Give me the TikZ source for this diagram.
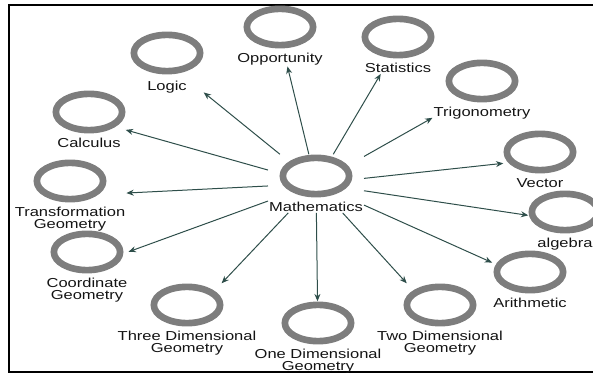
\documentclass[tikz,border=0pt]{standalone}
\usepackage{fontspec}
\newfontfamily\lblfont{Liberation Sans}[FakeStretch=1.27]
\usepackage{tikz}
\usetikzlibrary{arrows.meta,shapes.geometric,positioning,fit}
\definecolor{ringgray}{RGB}{125,125,125}
\definecolor{arrgreen}{RGB}{46,78,74}
\definecolor{lbltext} {RGB}{20,20,20}
\tikzset{
  ring/.style ={draw=ringgray, ellipse, line width=5pt,
                minimum width=49.7pt, minimum height=27.2pt, inner sep=0pt},
  lbl/.style  ={align=center, inner sep=0.5pt, text=lbltext,
                font=\lblfont\fontsize{9.75pt}{9pt}\selectfont},
  grp/.style  ={inner sep=0pt},
  arr/.style  ={-{Stealth[length=5.5pt,width=4.5pt]}, line width=0.75pt, draw=arrgreen},
  frame/.style={draw=black, line width=1.5pt},
}
\begin{document}
\begin{tikzpicture}[x=0.75pt,y=-0.75pt,node distance=2.8pt]
  \useasboundingbox (0,0) rectangle (593,374);
  \draw[frame] (9,5) rectangle (600,372);
  %% centre
  \node[ring] (math) at (316,176) {};
  \node[lbl, below=of math] (math-t) {Mathematics};
  \node[grp, fit=(math)(math-t)] (math-g) {};
  %% outer ring of topics
  \node[ring] (opp) at (280,27) {};
  \node[lbl, below=of opp] (opp-t) {Opportunity};
  \node[grp, fit=(opp)(opp-t)] (opp-g) {};
  \node[ring] (logic) at (167,53) {};
  \node[lbl, below=4pt of logic] (logic-t) {Logic};
  \node[grp, fit=(logic)(logic-t)] (logic-g) {};
  \node[ring] (stat) at (398,37) {};
  \node[lbl, below=of stat] (stat-t) {Statistics};
  \node[grp, fit=(stat)(stat-t)] (stat-g) {};
  \node[ring] (trig) at (482,81) {};
  \node[lbl, below=of trig] (trig-t) {Trigonometry};
  \node[grp, fit=(trig)(trig-t)] (trig-g) {};
  \node[ring] (calc) at (89,112) {};
  \node[lbl, below=of calc] (calc-t) {Calculus};
  \node[grp, fit=(calc)(calc-t)] (calc-g) {};
  \node[ring] (vec) at (540,152) {};
  \node[lbl, below=of vec] (vec-t) {Vector};
  \node[grp, fit=(vec)(vec-t)] (vec-g) {};
  \node[ring] (trans) at (70,181) {};
  \node[lbl, below=of trans] (trans-t) {Transformation\\Geometry};
  \node[grp, fit=(trans)(trans-t)] (trans-g) {};
  \node[ring] (alg) at (565,212) {};
  \node[lbl, below=of alg] (alg-t) {algebra};
  \node[grp, fit=(alg)(alg-t)] (alg-g) {};
  \node[ring] (coord) at (87,252) {};
  \node[lbl, below=of coord] (coord-t) {Coordinate\\Geometry};
  \node[grp, fit=(coord)(coord-t)] (coord-g) {};
  \node[ring] (arith) at (530,272) {};
  \node[lbl, below=of arith] (arith-t) {Arithmetic};
  \node[grp, fit=(arith)(arith-t)] (arith-g) {};
  \node[ring] (three) at (187,305) {};
  \node[lbl, below=of three] (three-t) {Three Dimensional\\Geometry};
  \node[grp, fit=(three)(three-t)] (three-g) {};
  \node[ring] (one) at (318,323) {};
  \node[lbl, below=of one] (one-t) {One Dimensional\\Geometry};
  \node[grp, fit=(one)(one-t)] (one-g) {};
  \node[ring] (two) at (440,305) {};
  \node[lbl, below=of two] (two-t) {Two Dimensional\\Geometry};
  \node[grp, fit=(two)(two-t)] (two-g) {};
  %% links
  \draw[arr] (math-g) -- (opp-g);
  \draw[arr] (math-g) -- (logic-g);
  \draw[arr] (math-g) -- (stat-g);
  \draw[arr] (math-g) -- (trig-g);
  \draw[arr] (math-g) -- (calc-g);
  \draw[arr] (math-g) -- (vec-g);
  \draw[arr] (math-g) -- (trans-g);
  \draw[arr] (math-g) -- (alg-g);
  \draw[arr] (math-g) -- (coord-g);
  \draw[arr] (math-g) -- (arith-g);
  \draw[arr] (math-g) -- (three-g);
  \draw[arr] (math-g) -- (one-g);
  \draw[arr] (math-g) -- (two-g);
\end{tikzpicture}
\end{document}
